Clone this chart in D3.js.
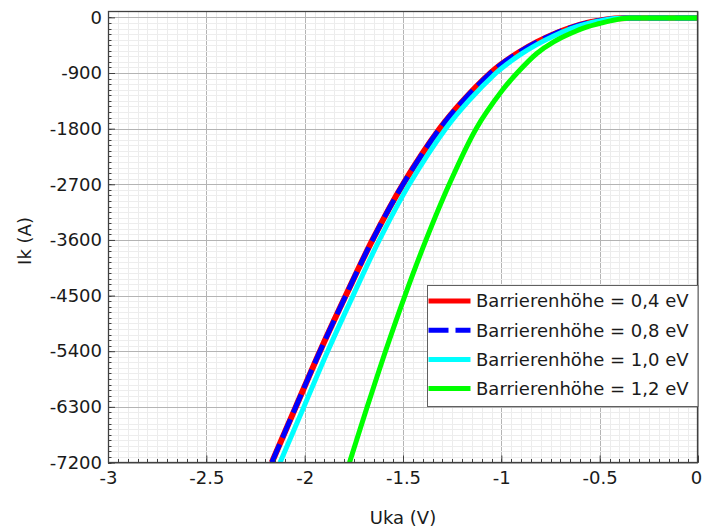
<!DOCTYPE html>
<html>
<head>
<meta charset="utf-8">
<script src="https://cdn.jsdelivr.net/npm/d3@7"></script>
<style>
  body { margin: 0; background: #fff; }
  svg { display: block; font-family: "DejaVu Sans", sans-serif; }
</style>
</head>
<body>
<svg id="chart" width="702" height="529"></svg>
<script>
// Tick values and labels
const xTickValues = [-3, -2.5, -2, -1.5, -1, -0.5, 0];
const xTickLabels = ["-3", "-2.5", "-2", "-1.5", "-1", "-0.5", "0"];
const yTickValues = [0, -900, -1800, -2700, -3600, -4500, -5400, -6300, -7200];
const yTickLabels = ["0", "-900", "-1800", "-2700", "-3600", "-4500", "-5400", "-6300", "-7200"];

// Series names
const seriesNames = [
  "Barrierenhöhe = 0,4 eV",
  "Barrierenhöhe = 0,8 eV",
  "Barrierenhöhe = 1,0 eV",
  "Barrierenhöhe = 1,2 eV"
];

// Uka (V) / Ik (A) for each barrier height
const uka04 = [-2.167, -2.045, -1.922, -1.791, -1.655, -1.5, -1.313, -1.195, -1.055, -1.0, -0.908, -0.82, -0.734, -0.649, -0.564, -0.5, -0.445, -0.4, -0.35, 0];
const ik04  = [-7200, -6300, -5400, -4500, -3600, -2700, -1800, -1350, -900, -757, -559, -401, -272, -168, -90, -52, -25, -14, -11, -11];

const uka08 = [-2.167, -2.045, -1.922, -1.791, -1.655, -1.5, -1.313, -1.195, -1.055, -1.0, -0.908, -0.82, -0.734, -0.649, -0.564, -0.5, -0.445, -0.4, -0.35, 0];
const ik08  = [-7200, -6300, -5400, -4500, -3600, -2700, -1800, -1350, -900, -757, -559, -401, -272, -168, -90, -52, -25, -14, -11, -11];

const uka10 = [-2.125, -2.004, -1.883, -1.754, -1.62, -1.468, -1.283, -1.166, -1.027, -1.0, -0.908, -0.82, -0.734, -0.649, -0.564, -0.5, -0.445, -0.4, -0.35, 0];
const ik10  = [-7200, -6300, -5400, -4500, -3600, -2700, -1800, -1350, -900, -826, -610, -440, -300, -185, -100, -57, -27, -15, -11, -11];

const uka12 = [-1.772, -1.682, -1.589, -1.49, -1.383, -1.265, -1.128, -0.995, -0.92, -0.82, -0.734, -0.649, -0.564, -0.5, -0.445, -0.377, -0.34, 0];
const ik12  = [-7200, -6300, -5400, -4500, -3600, -2700, -1800, -1180, -900, -584, -396, -261, -153, -99, -56, -18, -11, -11];

const seriesColors = ["#ff0000", "#0000ff", "#00ffff", "#00ff00"];

const series = [
  { name: seriesNames[0], x: uka04, y: ik04, color: seriesColors[0], width: 6, dash: null },
  { name: seriesNames[1], x: uka08, y: ik08, color: seriesColors[1], width: 5, dash: "20,7" },
  { name: seriesNames[2], x: uka10, y: ik10, color: seriesColors[2], width: 5, dash: null },
  { name: seriesNames[3], x: uka12, y: ik12, color: seriesColors[3], width: 5, dash: null }
];

const FONT = "DejaVu Sans, sans-serif";
const FS = 18;

const svg = d3.select("#chart");
const plot = { left: 108, right: 698, top: 11.5, bottom: 462.5 };

const x = d3.scaleLinear().domain([-3, 0]).range([plot.left, plot.right]);
const y = d3.scaleLinear().domain([-7200, 95]).range([plot.bottom, plot.top]);

const W = plot.right - plot.left, H = plot.bottom - plot.top;

svg.append("defs").append("clipPath").attr("id", "plotclip")
  .append("rect").attr("x", plot.left).attr("y", plot.top).attr("width", W).attr("height", H);

const grid = svg.append("g");
const xMinor = d3.range(-3, 0.0001, 0.05).map(v => +v.toFixed(2));
const yMinor = d3.range(0, -7200.1, -90);

// vertical minor grid
grid.append("g").selectAll("line").data(xMinor).join("line")
  .attr("x1", d => Math.round(x(d)) + 0.5).attr("x2", d => Math.round(x(d)) + 0.5)
  .attr("y1", plot.top).attr("y2", plot.bottom)
  .attr("stroke", "#ececec").attr("stroke-width", 1);
// vertical major grid
grid.append("g").selectAll("line").data(xTickValues).join("line")
  .attr("x1", d => Math.round(x(d)) + 0.5).attr("x2", d => Math.round(x(d)) + 0.5)
  .attr("y1", plot.top).attr("y2", plot.bottom)
  .attr("stroke", "#b4b4b4").attr("stroke-width", 1);
// horizontal minor grid (crosses the vertical majors, giving them a broken look)
grid.append("g").selectAll("line").data(yMinor).join("line")
  .attr("x1", plot.left).attr("x2", plot.right)
  .attr("y1", d => Math.round(y(d)) + 0.5).attr("y2", d => Math.round(y(d)) + 0.5)
  .attr("stroke", "#ededed").attr("stroke-width", 1);
// horizontal major grid
grid.append("g").selectAll("line").data(yTickValues).join("line")
  .attr("x1", plot.left).attr("x2", plot.right)
  .attr("y1", d => Math.round(y(d)) + 0.5).attr("y2", d => Math.round(y(d)) + 0.5)
  .attr("stroke", "#b4b4b4").attr("stroke-width", 1);

// curves
const line = d3.line().curve(d3.curveCatmullRom.alpha(0.5));
const curves = svg.append("g").attr("clip-path", "url(#plotclip)");
series.forEach(s => {
  const pts = s.x.map((v, i) => [x(v), y(s.y[i])]);
  curves.append("path")
    .attr("d", line(pts))
    .attr("fill", "none")
    .attr("stroke", s.color)
    .attr("stroke-width", s.width)
    .attr("stroke-dasharray", s.dash)
    .attr("stroke-linejoin", "round");
});

// axes with inward ticks
const axisColor = "#404040";
const xAxis = d3.axisBottom(x).tickValues(xTickValues)
  .tickFormat((d, i) => xTickLabels[i]).tickSize(-7).tickPadding(9);
const gx = svg.append("g").attr("transform", `translate(0,${plot.bottom})`).call(xAxis);
gx.select(".domain").remove();
gx.selectAll(".tick line").attr("stroke", axisColor);
gx.selectAll(".tick text").attr("fill", "#1a1a1a").attr("font-size", FS).attr("font-family", FONT)
  .attr("dx", (d, i) => i === xTickValues.length - 1 ? -2 : 0);
gx.append("g").selectAll("line").data(xMinor).join("line")
  .attr("x1", d => Math.round(x(d)) + 0.5).attr("x2", d => Math.round(x(d)) + 0.5)
  .attr("y1", 0).attr("y2", -3.5).attr("stroke", axisColor);

const yAxis = d3.axisLeft(y).tickValues(yTickValues)
  .tickFormat((d, i) => yTickLabels[i]).tickSize(-7).tickPadding(6);
const gy = svg.append("g").attr("transform", `translate(${plot.left},0)`).call(yAxis);
gy.select(".domain").remove();
gy.selectAll(".tick line").attr("stroke", axisColor);
gy.selectAll(".tick text").attr("fill", "#1a1a1a").attr("font-size", FS).attr("font-family", FONT);
gy.append("g").selectAll("line").data(yMinor).join("line")
  .attr("x1", 0).attr("x2", 3.5)
  .attr("y1", d => Math.round(y(d)) + 0.5).attr("y2", d => Math.round(y(d)) + 0.5).attr("stroke", axisColor);

// frame
svg.append("rect")
  .attr("x", plot.left + 0.5).attr("y", plot.top)
  .attr("width", W - 1).attr("height", H)
  .attr("fill", "none").attr("stroke", axisColor).attr("stroke-width", 1.3);

// axis titles
svg.append("text").attr("x", (plot.left + plot.right) / 2).attr("y", 524)
  .attr("text-anchor", "middle").attr("font-size", FS).attr("font-family", FONT).attr("fill", "#1a1a1a")
  .text("Uka (V)");
svg.append("text").attr("transform", "translate(31,241) rotate(-90)")
  .attr("text-anchor", "middle").attr("font-size", FS).attr("font-family", FONT).attr("fill", "#1a1a1a")
  .text("Ik (A)");

// legend
const lg = svg.append("g").attr("transform", "translate(427.5,285.5)");
lg.append("rect").attr("width", 270.5).attr("height", 121)
  .attr("fill", "#fff").attr("stroke", "#606060").attr("stroke-width", 1);
series.forEach((s, i) => {
  const cy = 15.5 + i * 29.2;
  lg.append("line").attr("x1", 1).attr("x2", 43).attr("y1", cy).attr("y2", cy)
    .attr("stroke", s.color).attr("stroke-width", 5).attr("stroke-dasharray", s.dash);
  lg.append("text").attr("x", 48.5).attr("y", cy).attr("dy", "0.36em")
    .attr("font-size", FS).attr("font-family", FONT).attr("fill", "#1a1a1a").text(s.name);
});
</script>
</body>
</html>
